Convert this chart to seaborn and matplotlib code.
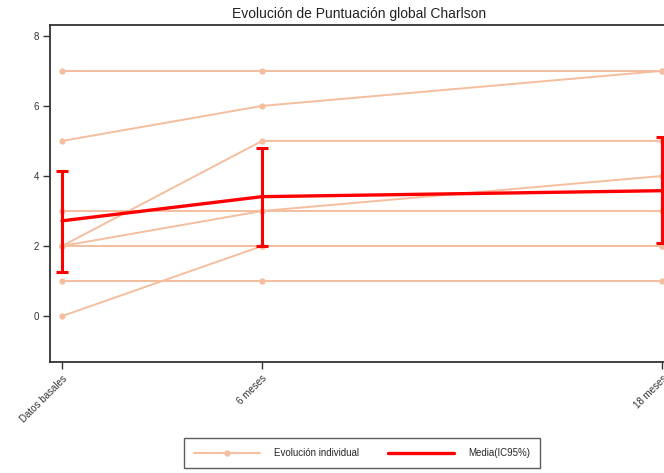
import matplotlib
matplotlib.use("Agg")
import matplotlib.pyplot as plt
from matplotlib.lines import Line2D
import numpy as np
import pandas as pd
import seaborn as sns

# Follow-up time points (months) and their labels
months = [0, 6, 18]
tick_labels = ["Datos basales", "6 meses", "18 meses"]

# Individual Charlson scores per patient at each time point
patient_1 = [7, 7, 7]
patient_2 = [5, 6, 7]
patient_3 = [2, 5, 5]
patient_4 = [2, 3, 4]
patient_5 = [3, 3, 3]
patient_6 = [2, 2, 2]
patient_7 = [1, 1, 1]
patient_8 = [0, 2, 2]
patients = [patient_1, patient_2, patient_3, patient_4,
            patient_5, patient_6, patient_7, patient_8]

# Mean score and 95% confidence interval at each time point
mean_score = [2.72, 3.41, 3.58]
ci_low = [1.27, 2.00, 2.09]
ci_high = [4.13, 4.81, 5.12]

rows = []
for pid, scores in enumerate(patients):
    for m, s in zip(months, scores):
        rows.append({"patient": pid, "mes": m, "score": s})
df = pd.DataFrame(rows)
df_mean = pd.DataFrame({"mes": months, "score": mean_score})

sns.set_theme(style="white")
plt.rcParams["font.family"] = ["Liberation Sans", "DejaVu Sans"]

W, H = 664, 473
fig = plt.figure(figsize=(W / 100, H / 100), dpi=100)
ax = fig.add_axes([50 / W, 1 - 362 / H, 618 / W, 337 / H])

ind_color = "#F4BE9F"
mean_color = "#FF0000"

sns.lineplot(data=df, x="mes", y="score", units="patient", estimator=None,
             color=ind_color, lw=1.4, marker="o", markersize=4.5,
             markeredgewidth=0, ax=ax, legend=False)

sns.lineplot(data=df_mean, x="mes", y="score", color=mean_color, lw=2.4,
             ax=ax, legend=False)
ax.errorbar(months, mean_score,
            yerr=[np.array(mean_score) - np.array(ci_low),
                  np.array(ci_high) - np.array(mean_score)],
            fmt="none", ecolor=mean_color, elinewidth=2.2, capsize=4,
            capthick=2.2, zorder=5)

ax.set_xlim(-0.36, 18.18)
ax.set_ylim(-1.31, 8.31)
ax.set_xticks(months)
ax.set_xticklabels(tick_labels, rotation=45, ha="right", rotation_mode="anchor",
                   fontsize=7, color="#333333")
ax.set_yticks([0, 2, 4, 6, 8])
ax.set_yticklabels(["0", "2", "4", "6", "8"], fontsize=7, color="#333333")
ax.tick_params(axis="both", which="both", direction="out", length=5, width=1,
               color="#333333", left=True, bottom=True, pad=3)
ax.set_xlabel("")
ax.set_ylabel("")
for side in ["left", "bottom", "top", "right"]:
    ax.spines[side].set_color("#333333")
    ax.spines[side].set_linewidth(1.3)

ax.set_title("Evolución de Puntuación global Charlson", fontsize=10,
             color="#222222", pad=5)

handles = [
    Line2D([0], [0], color=ind_color, lw=1.5, marker="o", markersize=4.5,
           markeredgewidth=0),
    Line2D([0], [0], color=mean_color, lw=2.4),
]
leg = fig.legend(handles, ["Evolución individual", "Media(IC95%)"],
                 loc="center", bbox_to_anchor=(362 / W, 1 - 453 / H), ncol=2,
                 fontsize=7, frameon=True, fancybox=False, edgecolor="#333333",
                 handlelength=6.8, columnspacing=3.0, handletextpad=1.4,
                 borderpad=1.0)
leg.get_frame().set_linewidth(1.0)

fig.savefig("out.png", dpi=100, facecolor="white")
